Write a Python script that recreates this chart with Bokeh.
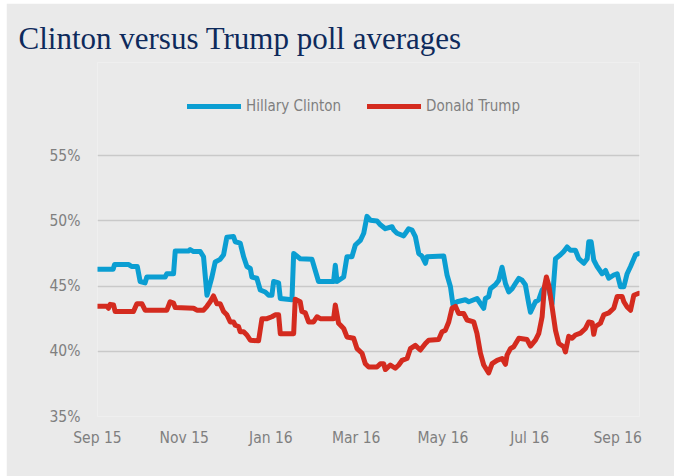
import pandas as pd
from bokeh.plotting import figure
from bokeh.models import Legend, LegendItem, FixedTicker, Range1d, DatetimeTickFormatter
from bokeh.embed import file_html
from bokeh.resources import INLINE

start_date = pd.Timestamp("2015-09-01")

# x ticks (month starts) and labels
tick_dates = ["2015-09-01", "2015-11-01", "2016-01-01", "2016-03-01", "2016-05-01", "2016-07-01", "2016-09-01"]
y_ticks = [35, 40, 45, 50, 55]

# Clinton poll average: days since 1 Sep 2015, value in %
clinton_day = [0, 11, 12, 22, 24, 28, 30, 33.5, 34.7, 47.6, 48.8, 53.5, 54.7, 64, 65.2, 67.6, 72.3, 74.6, 77, 80.5,
               82.8, 86.3, 88.7, 91, 95.7, 96.9, 100.4, 102.8, 105.1, 107.5, 108.6, 112.1, 114.5, 118, 120.4, 122.7,
               123.9, 127.4, 128.6, 136.8, 138, 142.6, 150.9, 153.2, 155.5, 166.1, 167.3, 168.5, 173.2, 175.5, 179,
               181.4, 184.9, 187.3, 189.6, 192, 196.6, 199, 202.5, 207.2, 208.4, 210.7, 215.4, 218.9, 221.3, 223.6,
               226, 228.3, 230.7, 231.8, 243.6, 245.9, 248.3, 250.1, 253, 258.8, 261.2, 267, 271.7, 272.9, 275.2,
               276.4, 279.9, 282.3, 284.6, 287, 289.3, 291.7, 294, 296.4, 298.7, 301, 303.4, 304.6, 308.1, 310.4,
               312.8, 315.1, 317.5, 319.8, 322.2, 325.7, 328, 330.4, 332.7, 336.2, 338.6, 342.1, 344.5, 345.6, 347.3,
               349.1, 351.5, 355, 357.4, 359.7, 363.2, 365.6, 367.9, 370.3, 372.6, 375, 378.5, 380.8]
clinton_val = [46.3, 46.3, 46.65, 46.65, 46.5, 46.5, 45.35, 45.25, 45.7, 45.7, 45.95, 45.95, 47.7, 47.7, 47.8, 47.65,
               47.65, 47.25, 44.3, 45.7, 46.85, 47.05, 47.4, 48.75, 48.8, 48.4, 48.3, 47.25, 46.5, 46.35, 45.7, 45.6,
               44.7, 44.55, 44.3, 44.3, 45.35, 45.25, 44.05, 43.95, 47.5, 47.1, 47.05, 46.2, 45.35, 45.35, 46.6, 45.35,
               45.7, 47.25, 47.25, 48.15, 48.5, 49.05, 50.35, 50.05, 50.0, 49.7, 49.4, 49.55, 49.3, 49.05, 48.85, 49.4,
               49.3, 48.8, 47.5, 47.3, 46.75, 47.25, 47.3, 45.85, 44.95, 43.55, 43.8, 43.95, 43.8, 44.05, 43.3, 44.05,
               44.2, 44.8, 45.1, 45.45, 46.45, 45.2, 44.55, 44.8, 45.2, 45.6, 45.45, 45.1, 43.65, 43.0, 43.8, 43.95,
               44.7, 44.95, 44.8, 43.65, 47.1, 47.4, 47.65, 48.0, 47.75, 47.75, 47.1, 46.75, 47.1, 48.4, 48.4, 47.0,
               46.5, 45.95, 46.2, 45.6, 45.85, 45.95, 44.95, 44.95, 45.95, 46.5, 47.4, 47.5]

# Trump poll average
trump_day = [0, 6.6, 7.7, 8.9, 11.3, 12.4, 25.3, 27.7, 31.2, 33.5, 48.8, 51.1, 53.5, 54.7, 67.6, 69.9, 74.6, 77, 79.3,
             81.6, 84, 86.3, 88.7, 91, 93.4, 95.7, 96.9, 99.2, 100.4, 102.8, 105.1, 107.5, 113.3, 115.7, 119.2, 122.7,
             125, 127.4, 128.6, 138, 139.1, 142.6, 143.8, 146.2, 148.5, 152, 154.4, 156.7, 166.1, 167.3, 169.6, 173.2,
             175.5, 180.2, 182.6, 186.1, 188.4, 190.8, 196.6, 199, 201.3, 202.5, 206, 209.5, 211.9, 214.2, 217.8,
             220.1, 223.6, 227.1, 230.7, 233, 240, 242.4, 244.7, 247.1, 249.4, 251.8, 254.1, 257.6, 260, 264.7, 267,
             269.4, 271.7, 275.2, 277.6, 281.1, 284.6, 287, 288.1, 290.5, 292.8, 296.4, 302.2, 304.6, 308.1, 310.4,
             312.8, 314.4, 315.8, 317.5, 319.8, 322.2, 324.5, 328, 329.2, 331.5, 333.9, 336.2, 339.8, 343.3, 345.6,
             348, 349.1, 350.3, 353.8, 356.2, 359.7, 363.2, 365.6, 369.1, 370.3, 372.6, 375, 377.3, 380.8]
trump_val = [43.45, 43.45, 43.3, 43.6, 43.55, 43.05, 43.05, 43.65, 43.65, 43.15, 43.15, 43.8, 43.7, 43.35, 43.3, 43.15,
             43.15, 43.45, 43.8, 44.25, 43.65, 43.65, 43.05, 42.8, 42.25, 42.25, 42.0, 41.9, 41.5, 41.5, 41.25, 40.85,
             40.8, 42.5, 42.5, 42.65, 42.8, 42.8, 41.35, 41.35, 44.0, 43.8, 43.05, 42.95, 42.25, 42.25, 42.65, 42.5,
             42.5, 43.55, 42.15, 41.75, 41.1, 41.0, 40.2, 39.85, 39.05, 38.8, 38.8, 39.05, 39.05, 38.6, 38.95, 38.7,
             38.95, 39.3, 39.45, 40.2, 40.45, 40.1, 40.6, 40.85, 40.9, 41.5, 41.6, 42.25, 43.3, 43.45, 42.9, 42.9,
             42.4, 42.25, 41.35, 39.85, 38.95, 38.35, 39.05, 39.3, 39.45, 39.0, 39.7, 40.2, 40.35, 41.0, 40.9, 40.4,
             40.85, 41.35, 42.65, 44.95, 45.7, 45.05, 43.4, 41.6, 40.6, 40.35, 39.95, 41.15, 41.0, 41.25, 41.4, 41.75,
             42.25, 42.2, 41.3, 41.9, 42.15, 42.8, 42.95, 43.3, 44.2, 44.2, 43.8, 43.4, 43.15, 44.3, 44.45]

series_names = ["Hillary Clinton", "Donald Trump"]
series_colors = ["#0B9ED2", "#D42B1F"]

to_dates = lambda days: start_date + pd.to_timedelta(days, unit="D")
clinton_x = to_dates(clinton_day)
trump_x = to_dates(trump_day)

BG = "#EAEAEA"
GREY = "#7F7F7F"
NARROW = "DejaVu Sans Condensed"

p = figure(width=668, height=473, x_axis_type="datetime", output_backend="svg", toolbar_location=None,
           min_border_left=91, min_border_right=35, min_border_top=59, min_border_bottom=60,
           background_fill_color=BG, border_fill_color=BG, outline_line_color=None)
p.margin = (3, 0, 0, 6)

p.x_range = Range1d(to_dates(0), to_dates(381.3))
p.y_range = Range1d(35, 35 + 354 / 13.04)

r1 = p.line(clinton_x, clinton_val, line_color=series_colors[0], line_width=5, line_join="round", line_cap="round")
r2 = p.line(trump_x, trump_val, line_color=series_colors[1], line_width=5, line_join="round", line_cap="round")

p.title.text = "Clinton versus Trump poll averages"
p.title.text_font = "Liberation Serif"
p.title.text_font_size = "31px"
p.title.text_font_style = "normal"
p.title.text_color = "#0E2A5C"
p.title.align = "left"
p.title.offset = -79
p.title.standoff = 14

# axes
p.xaxis.ticker = FixedTicker(ticks=[pd.Timestamp(d).value / 1e6 for d in tick_dates])
p.xaxis.formatter = DatetimeTickFormatter(days="%b %y", months="%b %y", years="%b %y")
p.yaxis.ticker = FixedTicker(ticks=y_ticks)
p.yaxis.major_label_overrides = {t: f"{t}%" for t in y_ticks}
for ax in (p.xaxis, p.yaxis):
    ax.axis_line_color = None
    ax.major_tick_line_color = None
    ax.minor_tick_line_color = None
    ax.major_tick_out = 0
    ax.major_tick_in = 0
    ax.minor_tick_out = 0
    ax.major_label_text_font = NARROW
    ax.major_label_text_font_size = "15.5px"
    ax.major_label_text_color = GREY
p.xaxis.major_label_standoff = 12
p.yaxis.major_label_standoff = 17

p.xgrid.grid_line_color = None
p.ygrid.grid_line_color = "#C9C9C9"
p.ygrid.grid_line_width = 1.5

legend = Legend(items=[LegendItem(label=series_names[0], renderers=[r1]),
                       LegendItem(label=series_names[1], renderers=[r2])],
                orientation="horizontal", location=(90, 300),
                glyph_width=54, glyph_height=20, label_standoff=5, spacing=26,
                padding=0, margin=0, border_line_color=None, background_fill_alpha=0,
                label_text_font=NARROW, label_text_font_size="15px", label_text_color=GREY)
p.add_layout(legend)

open("out.html", "w").write(file_html(p, INLINE))
